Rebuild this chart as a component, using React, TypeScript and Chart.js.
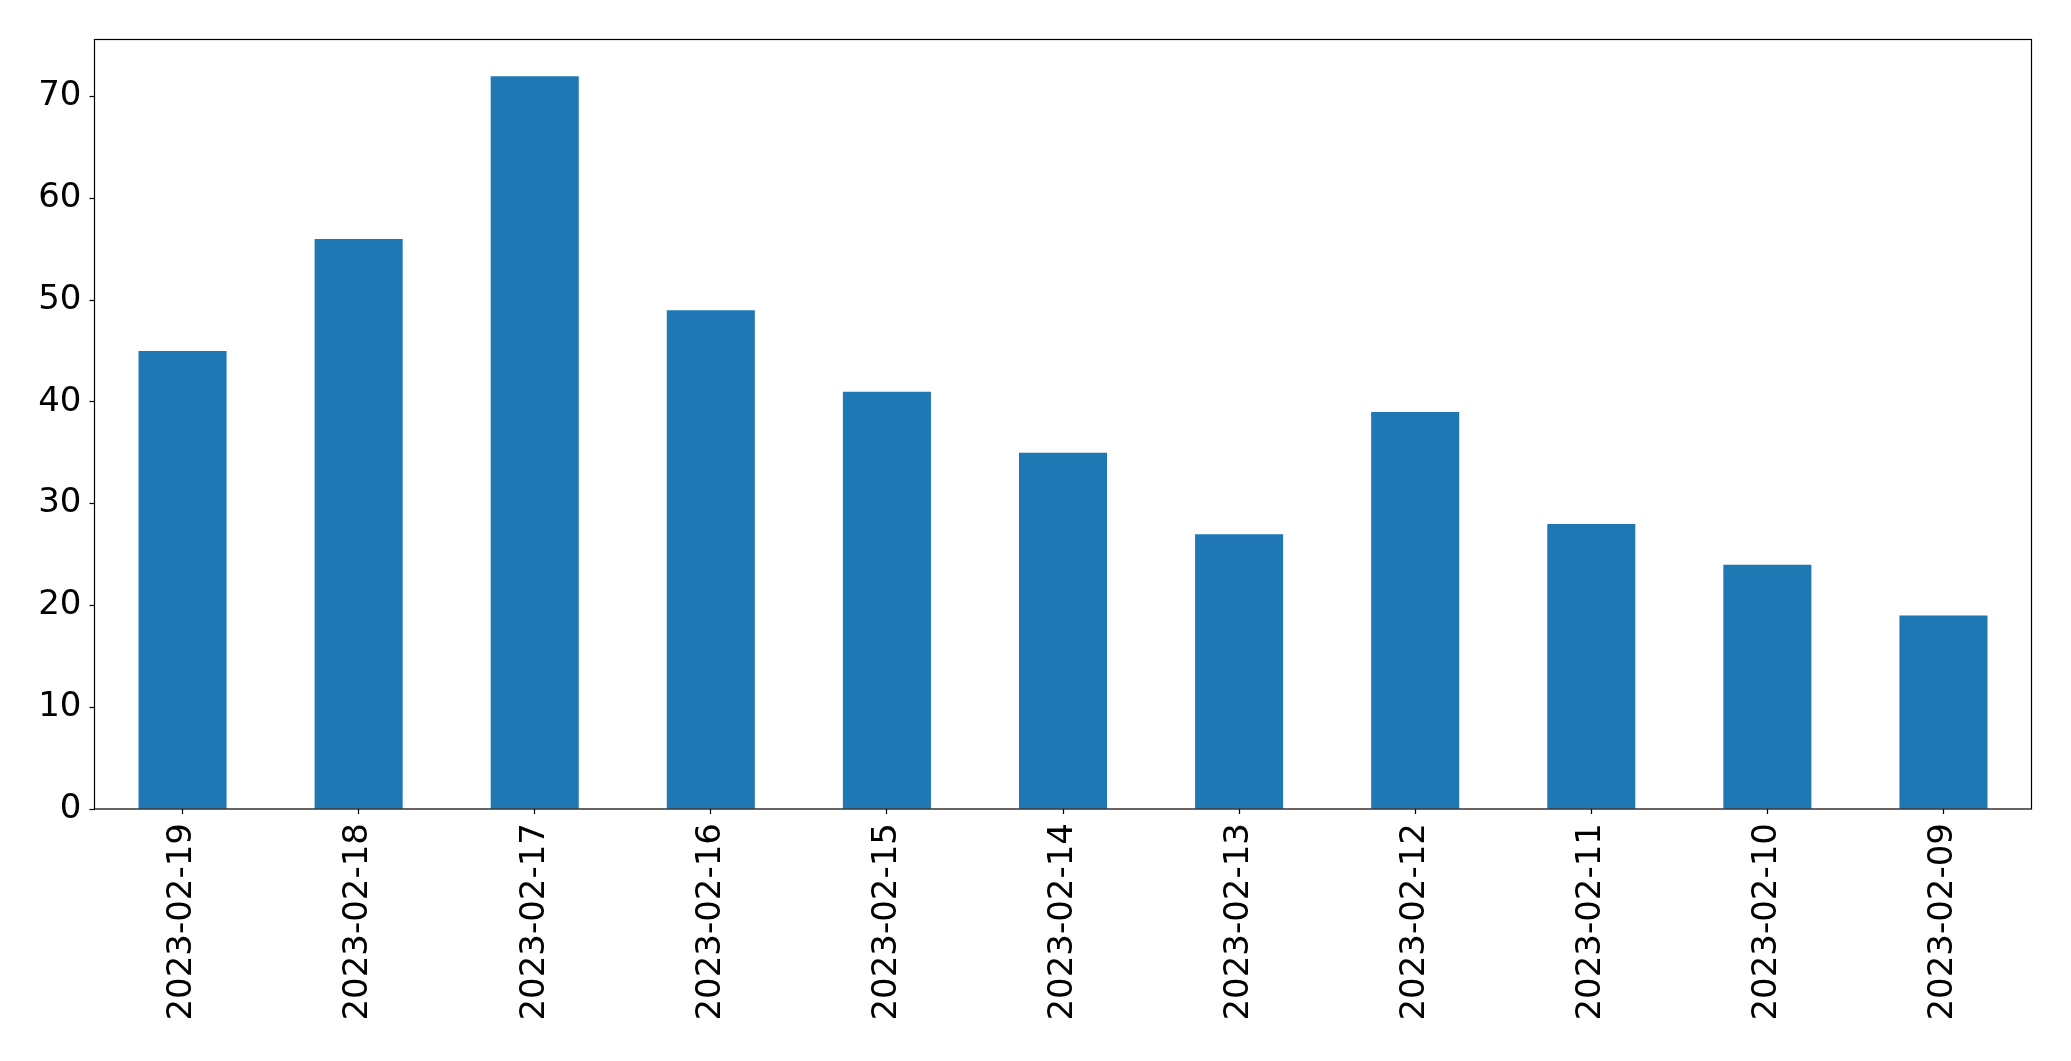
import React, { useEffect, useRef } from "react";
import { Chart, registerables } from "chart.js";

Chart.register(...registerables);

const categories = [
  "2023-02-19", "2023-02-18", "2023-02-17", "2023-02-16", "2023-02-15", "2023-02-14",
  "2023-02-13", "2023-02-12", "2023-02-11", "2023-02-10", "2023-02-09",
];
const counts = [45, 56, 72, 49, 41, 35, 27, 39, 28, 24, 19];
const yMax = 75.6;
const yStep = 10;

const W = 2071;
const H = 1061;

const framePlugin = {
  id: "frame",
  afterDraw(chart: any) {
    const { ctx, chartArea } = chart;
    ctx.save();
    ctx.strokeStyle = "#000";
    ctx.lineWidth = 1.2;
    ctx.strokeRect(chartArea.left, chartArea.top, chartArea.right - chartArea.left, chartArea.bottom - chartArea.top);
    ctx.restore();
  },
};

export default function App() {
  const ref = useRef<HTMLCanvasElement>(null);
  useEffect(() => {
    if (!ref.current) return;
    const font = { family: "'DejaVu Sans', sans-serif", size: 34 };
    const chart = new Chart(ref.current, {
      type: "bar",
      data: {
        labels: categories,
        datasets: [
          {
            data: counts,
            backgroundColor: "#1f77b4",
            borderWidth: 0,
            barPercentage: 0.5,
            categoryPercentage: 1.0,
          },
        ],
      },
      options: {
        responsive: false,
        animation: false,
        events: [],
        layout: { padding: { top: 39.5, right: 39.5, left: 0, bottom: 0 } },
        plugins: { legend: { display: false }, tooltip: { enabled: false } },
        scales: {
          x: {
            type: "category",
            offset: true,
            border: { display: false },
            grid: { drawOnChartArea: false, drawTicks: true, tickLength: 5, tickColor: "#000", tickWidth: 1.2, offset: false },
            ticks: { color: "#000", font, minRotation: 90, maxRotation: 90, padding: 9, autoSkip: false },
            afterFit(scale: any) {
              scale.height = 252;
            },
          },
          y: {
            min: 0,
            max: yMax,
            border: { display: false },
            grid: { drawOnChartArea: false, drawTicks: true, tickLength: 5, tickColor: "#000", tickWidth: 1.2 },
            ticks: { color: "#000", font, stepSize: yStep, includeBounds: false, padding: 8 },
            afterFit(scale: any) {
              scale.width = 94.5;
            },
          },
        },
      },
      plugins: [framePlugin],
    } as any);
    return () => chart.destroy();
  }, []);
  return (
    <div style={{ position: "fixed", left: 0, top: 0, width: W, height: H, background: "#fff" }}>
      <canvas ref={ref} width={W} height={H} style={{ width: W, height: H, display: "block" }} />
    </div>
  );
}
